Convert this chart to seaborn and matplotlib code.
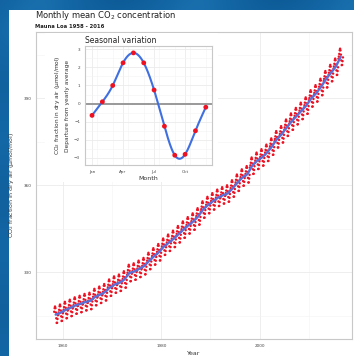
import numpy as np
import pandas as pd
import matplotlib
matplotlib.use("Agg")
import matplotlib.pyplot as plt
from matplotlib.patches import Rectangle
from matplotlib.ticker import MultipleLocator
import seaborn as sns

sns.set_theme(style="white")
plt.rcParams['font.family'] = ['DejaVu Sans']

# ---- data ----
years = list(range(1958, 2017))
annual_mean = [315.3, 315.97, 316.91, 317.64, 318.45, 318.99, 319.62, 320.04, 321.38, 322.16,
               323.04, 324.62, 325.68, 326.32, 327.45, 329.68, 330.18, 331.11, 332.04, 333.83,
               335.40, 336.84, 338.75, 340.11, 341.45, 343.05, 344.65, 346.12, 347.42, 349.19,
               351.57, 353.12, 354.39, 355.61, 356.45, 357.10, 358.83, 360.82, 362.61, 363.73,
               366.70, 368.38, 369.55, 371.14, 373.28, 375.80, 377.52, 379.80, 381.90, 383.79,
               385.60, 387.43, 389.90, 391.65, 393.85, 396.52, 398.65, 400.83, 404.24]
months = list(range(1, 13))
month_labels = ["Jan", "Apr", "Jul", "Oct"]
seasonal = [-0.65, 0.1, 1.0, 2.25, 2.8, 2.25, 0.75, -1.25, -2.85, -2.8, -1.5, -0.2]

# monthly table built from the annual means and the seasonal departures
rows = []
for y, a in zip(years, annual_mean):
    for m, s in zip(months, seasonal):
        if y == 1958 and m < 3:
            continue
        rows.append((y + (m - 0.5) / 12.0, a + s))
monthly = pd.DataFrame(rows, columns=["time", "co2"])
trend = pd.DataFrame({"time": [y + 0.5 for y in years], "co2": annual_mean})

# ---- figure ----
W, H = 354, 356
fig = plt.figure(figsize=(W / 100, H / 100), dpi=100)

# blue background
bg = fig.add_axes([0, 0, 1, 1])
gx = np.linspace(0, 1, 200)
gy = np.linspace(0, 1, 200)
GX, GY = np.meshgrid(gx, gy)
val = 0.35 + 0.25 * np.sin(GX * 14 + GY * 5) * np.exp(-GY * 6) + 0.1 * np.sin(GY * 20)
cmap = matplotlib.colors.LinearSegmentedColormap.from_list("sea", ["#0c5a96", "#1468a6", "#2a82c2"])
bg.imshow(val, cmap=cmap, aspect="auto", extent=[0, 1, 0, 1], origin="upper", vmin=0, vmax=1)
bg.set_axis_off()
bg.add_patch(Rectangle((9 / W, 0), 1 - 9 / W, 1 - 9.5 / H, facecolor="white", edgecolor="none",
                       transform=bg.transAxes))

# main axes
ax = fig.add_axes([36 / W, (H - 339) / H, (352 - 36) / W, (339 - 32) / H])
ax.set_facecolor("white")
sns.scatterplot(data=monthly, x="time", y="co2", ax=ax, color="#ee1122", s=3.0,
                edgecolor="none", zorder=3)
sns.lineplot(data=trend, x="time", y="co2", ax=ax, color="#5b6fd6", lw=1.7, zorder=4)
ax.set_xlim(1954.5, 2018.8)
ax.set_ylim(306.9, 412.8)
ax.xaxis.set_major_locator(MultipleLocator(20))
ax.xaxis.set_minor_locator(MultipleLocator(10))
ax.yaxis.set_major_locator(MultipleLocator(30))
ax.yaxis.set_minor_locator(MultipleLocator(15))
ax.grid(which="major", color="#ebebeb", lw=0.6)
ax.grid(which="minor", color="#f4f4f4", lw=0.4)
ax.set_axisbelow(True)
ax.tick_params(which="major", length=2, width=0.5, color="#999999", labelsize=3,
               labelcolor="#444444", pad=1.5)
ax.tick_params(which="minor", length=0)
for sp in ax.spines.values():
    sp.set_color("#c8c8c8")
    sp.set_linewidth(0.8)
ax.set_xlabel("Year", fontsize=4.5, color="#333333", labelpad=2)
ax.set_ylabel("CO$_2$ fraction in dry air (µmol/mol)", fontsize=4.5, color="#333333", labelpad=5)

# white block behind inset
x0, x1, y0 = 45, 218, 182
ax.add_patch(Rectangle(((x0 - 36) / 316, (339 - y0) / 307), (x1 - x0) / 316, 1 - (339 - y0) / 307 - 0.004,
                       transform=ax.transAxes, facecolor="white", edgecolor="none",
                       zorder=10, clip_on=False))

fig.text(35 / W, 1 - 15 / H, "Monthly mean CO$_2$ concentration", fontsize=6, color="#222222",
         va="center", ha="left")
fig.text(35 / W, 1 - 26.5 / H, "Mauna Loa 1958 - 2016", fontsize=3.8, color="#222222",
         va="center", ha="left", fontweight="bold")

# inset
ins = fig.add_axes([85 / W, (H - 165) / H, (212 - 85) / W, (165 - 46) / H])
ins.set_facecolor("white")
# natural cubic spline through the 12 monthly values
t = np.array(months, dtype=float)
vals = np.array(seasonal)
n = len(t)
A = np.zeros((n, n))
b = np.zeros(n)
A[0, 0] = 1.0
A[-1, -1] = 1.0
for i in range(1, n - 1):
    A[i, i - 1], A[i, i], A[i, i + 1] = 1.0, 4.0, 1.0
    b[i] = 6.0 * (vals[i + 1] - 2 * vals[i] + vals[i - 1])
Msec = np.linalg.solve(A, b)
tt = np.linspace(1, 12, 331)
idx = np.clip(np.floor(tt - 1).astype(int), 0, n - 2)
u = tt - t[idx]
yy = ((1 - u) * vals[idx] + u * vals[idx + 1]
      + ((1 - u) ** 3 - (1 - u)) * Msec[idx] / 6.0 + (u ** 3 - u) * Msec[idx + 1] / 6.0)
curve = pd.DataFrame({"month": tt, "dep": yy})
ins.axhline(0, color="#999999", lw=1.4, zorder=2)
sns.lineplot(data=curve, x="month", y="dep", ax=ins, color="#3f6fe0", lw=1.5, zorder=3)
sns.scatterplot(x=months, y=seasonal, ax=ins, color="#ee1122", s=12, edgecolor="none", zorder=4)
ins.set_xlim(0.32, 12.6)
ins.set_ylim(-3.39, 3.18)
ins.set_xticks([1, 4, 7, 10])
ins.set_xticklabels(month_labels)
ins.xaxis.set_minor_locator(MultipleLocator(1.5))
ins.set_yticks([-3, -2, -1, 0, 1, 2, 3])
ins.yaxis.set_minor_locator(MultipleLocator(0.5))
ins.grid(which="major", color="#ebebeb", lw=0.6)
ins.grid(which="minor", color="#f4f4f4", lw=0.4)
ins.set_axisbelow(True)
ins.tick_params(which="major", length=2, width=0.5, color="#999999", labelsize=3,
                labelcolor="#444444", pad=1.5)
ins.tick_params(which="minor", length=0)
for sp in ins.spines.values():
    sp.set_color("#c8c8c8")
    sp.set_linewidth(0.8)
ins.set_xlabel("Month", fontsize=4.5, color="#333333", labelpad=1.5)
ins.set_ylabel("CO$_2$ fraction in dry air (µmol/mol)\nDeparture from yearly average",
               fontsize=4.2, color="#333333", labelpad=3, linespacing=1.6)
ins.set_title("Seasonal variation", fontsize=5.5, color="#222222", loc="left", pad=2)

fig.savefig("out.png", dpi=100)
